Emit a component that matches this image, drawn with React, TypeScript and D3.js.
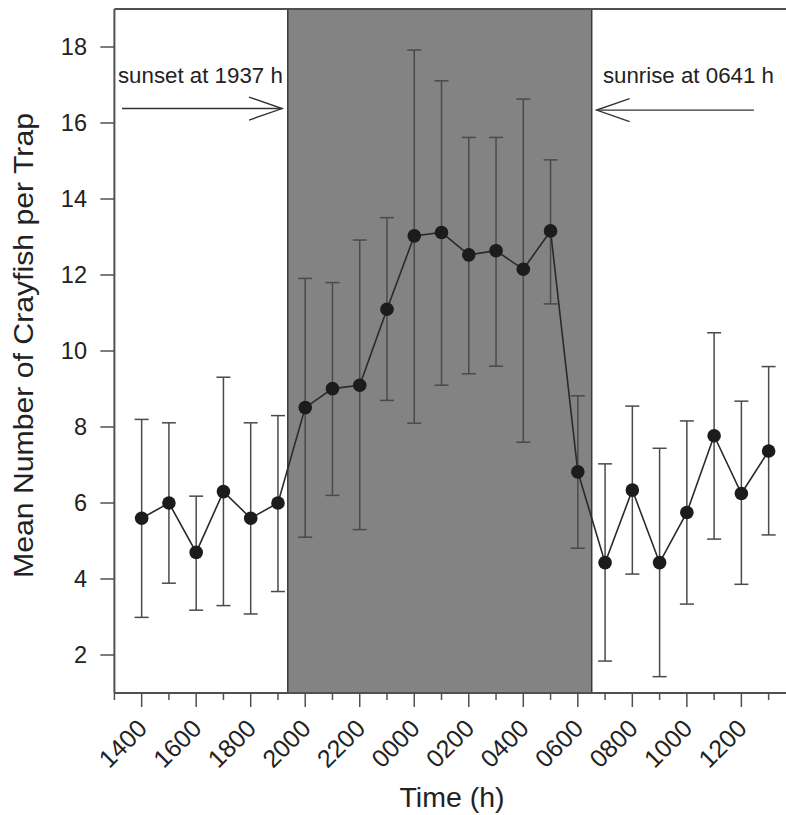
import React from "react";
import * as d3 from "d3";

const hourLabels = ["1400","1500","1600","1700","1800","1900","2000","2100","2200","2300","0000","0100","0200","0300","0400","0500","0600","0700","0800","0900","1000","1100","1200","1300"];
const means = [5.6, 6.0, 4.7, 6.3, 5.6, 6.0, 8.51, 9.01, 9.1, 11.1, 13.03, 13.12, 12.53, 12.64, 12.15, 13.16, 6.82, 4.43, 6.34, 4.43, 5.75, 7.77, 6.25, 7.37];
const upper = [8.2, 8.11, 6.18, 9.31, 8.11, 8.3, 11.91, 11.8, 12.92, 13.51, 17.92, 17.11, 15.62, 15.62, 16.63, 15.03, 8.82, 7.03, 8.55, 7.44, 8.16, 10.48, 8.68, 9.59];
const lower = [2.99, 3.89, 3.18, 3.3, 3.08, 3.67, 5.1, 6.2, 5.3, 8.7, 8.1, 9.1, 9.4, 9.6, 7.6, 11.24, 4.81, 1.84, 4.13, 1.43, 3.34, 5.05, 3.86, 5.16];
const yTicks = [2, 4, 6, 8, 10, 12, 14, 16, 18];
// dark period (in hours after 1400)
const nightRange = [5.36, 16.51];
const sunsetNote = { text: "sunset at 1937 h", textX: -0.87, arrowFrom: -0.72, arrowTo: 5.15, y: 16.38, textY: 17.05 };
const sunriseNote = { text: "sunrise at 0641 h", textX: 16.92, arrowFrom: 22.46, arrowTo: 16.69, y: 16.34, textY: 17.05 };

const W = 786;
const H = 815;
const FONT = "'Liberation Sans', Arial, Helvetica, sans-serif";

export default function App() {
  const x = d3.scaleLinear().domain([-1, 24]).range([114.4, 114.4 + 25 * 27.26]);
  const y = d3.scaleLinear().domain([1, 19]).range([693, 9]);
  const x0 = x(-1);
  const yb = y(1);
  const yt = y(19);

  const line = d3
    .line<number>()
    .x((_, i) => x(i))
    .y((d) => y(d));

  const xTickIdx = d3.range(-1, 25);
  const axisColor = "#505050";

  const arrow = (note: typeof sunsetNote) => {
    const x1 = x(note.arrowFrom);
    const x2 = x(note.arrowTo);
    const yy = y(note.y);
    const dir = x2 > x1 ? 1 : -1;
    const hx = x2 - dir * 33;
    return (
      <g stroke="#333" strokeWidth={1.4} fill="none">
        <line x1={x1} x2={x2} y1={yy} y2={yy} />
        <polyline points={`${hx},${yy - 11.5} ${x2},${yy} ${hx},${yy + 11.5}`} />
      </g>
    );
  };

  return (
    <svg
      width={W}
      height={H}
      style={{ position: "absolute", left: 0, top: 0, background: "#fff" }}
      fontFamily={FONT}
    >
      <rect x={0} y={0} width={W} height={H} fill="#fff" />
      {/* night shading */}
      <rect
        x={x(nightRange[0])}
        y={yt}
        width={x(nightRange[1]) - x(nightRange[0])}
        height={yb - yt}
        fill="#838383"
      />
      <line x1={x(nightRange[0])} x2={x(nightRange[0])} y1={yt} y2={yb} stroke="#3a3a3a" strokeWidth={1.5} />
      <line x1={x(nightRange[1])} x2={x(nightRange[1])} y1={yt} y2={yb} stroke="#3a3a3a" strokeWidth={1.5} />

      {/* frame */}
      <line x1={x0} x2={W} y1={yt} y2={yt} stroke={axisColor} strokeWidth={2} />
      <line x1={x0} x2={x0} y1={yt} y2={yb} stroke={axisColor} strokeWidth={2} />
      <line x1={x0} x2={W} y1={yb} y2={yb} stroke={axisColor} strokeWidth={2} />

      {/* y ticks */}
      {yTicks.map((t) => (
        <g key={t}>
          <line x1={x0 - 14} x2={x0} y1={y(t)} y2={y(t)} stroke={axisColor} strokeWidth={1.5} />
          <text x={87} y={y(t)} dy="0.36em" textAnchor="end" fontSize={23.5} fill="#222">
            {t}
          </text>
        </g>
      ))}

      {/* x ticks */}
      {xTickIdx.map((i) => {
        const major = i >= 0 && i % 2 === 0;
        const label = i >= 0 && i < hourLabels.length ? hourLabels[i] : "";
        return (
          <g key={i}>
            <line x1={x(i)} x2={x(i)} y1={yb} y2={yb + (major ? 14 : 7)} stroke={axisColor} strokeWidth={1.5} />
            {major && label && (
              <text
                transform={`translate(${x(i) + 7},${yb + 37}) rotate(-45)`}
                textAnchor="end"
                fontSize={25}
                fill="#222"
              >
                {label}
              </text>
            )}
          </g>
        );
      })}

      {/* axis titles */}
      <text x={452} y={807} textAnchor="middle" fontSize={28.5} fill="#222">
        Time (h)
      </text>
      <text
        transform={`translate(33,345.5) rotate(-90)`}
        textAnchor="middle"
        fontSize={28}
        fill="#222"
        textLength={465}
        lengthAdjust="spacingAndGlyphs"
      >
        Mean Number of Crayfish per Trap
      </text>

      {/* annotations */}
      <text x={x(sunsetNote.textX)} y={y(sunsetNote.textY)} fontSize={22.3} fill="#222">
        {sunsetNote.text}
      </text>
      {arrow(sunsetNote)}
      <text x={x(sunriseNote.textX)} y={y(sunriseNote.textY)} fontSize={22.3} fill="#222">
        {sunriseNote.text}
      </text>
      {arrow(sunriseNote)}

      {/* error bars */}
      {means.map((m, i) => (
        <g key={i} stroke="#4a4a4a" strokeWidth={1.5}>
          <line x1={x(i)} x2={x(i)} y1={y(upper[i])} y2={y(lower[i])} />
          <line x1={x(i) - 7} x2={x(i) + 7} y1={y(upper[i])} y2={y(upper[i])} />
          <line x1={x(i) - 7} x2={x(i) + 7} y1={y(lower[i])} y2={y(lower[i])} />
        </g>
      ))}

      {/* mean line */}
      <path d={line(means) || ""} fill="none" stroke="#2a2a2a" strokeWidth={1.6} />
      {means.map((m, i) => (
        <circle key={i} cx={x(i)} cy={y(m)} r={6.8} fill="#1c1c1c" />
      ))}
    </svg>
  );
}
